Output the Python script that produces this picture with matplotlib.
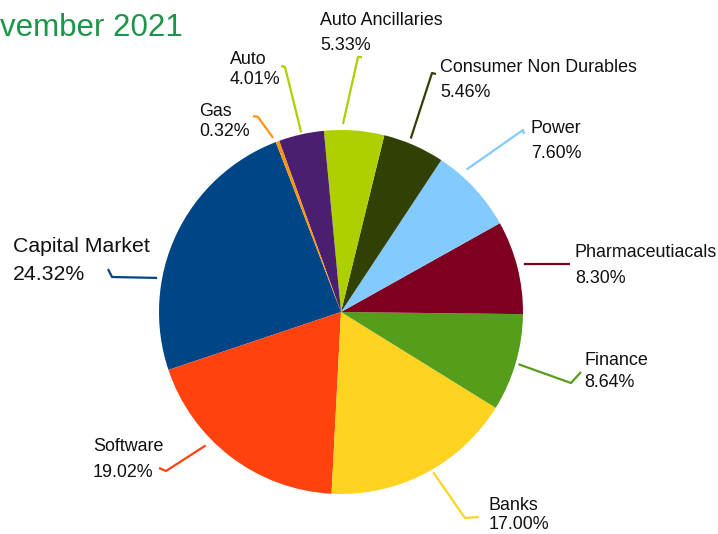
import matplotlib
matplotlib.use("Agg")
import matplotlib.pyplot as plt
import numpy as np

# ---- data ----
categories = ["Capital Market", "Software", "Banks", "Finance", "Pharmaceutiacals",
              "Power", "Consumer Non Durables", "Auto Ancillaries", "Auto", "Gas"]
values = [24.32, 19.02, 17.00, 8.64, 8.30, 7.60, 5.46, 5.33, 4.01, 0.32]
title_text = "November 2021"

# ---- style ----
colors = ["#004586", "#FF420E", "#FFD320", "#579D1C", "#7E0021",
          "#83CAFF", "#314004", "#AECF00", "#4B1F6F", "#FF950E"]
leader_colors = ["#004586", "#FF420E", "#FFD320", "#579D1C", "#7E0021",
                 "#83CAFF", "#314004", "#AECF00", "#AECF00", "#FF950E"]

W, H = 718, 534
def Y(y):
    return H - y

# label layout (pixel x, baseline line1, baseline line2, font size)
label_layout = [
    (13, 252, 280, 15.3),
    (93, 451, 477, 12.9),
    (489, 510, 529, 12.9),
    (584, 365, 387, 12.9),
    (575, 257, 283, 12.9),
    (531, 133, 158, 12.9),
    (440, 72, 97, 12.9),
    (320, 25, 50, 12.9),
    (230, 64, 84, 12.9),
    (199, 116, 136, 12.9),
]
# leader layout: start angle (deg), start radius (px), then path points (px)
leader_layout = [
    (169.5, 187, [(112, 277), (108, 269)]),
    (224.6, 190, [(166, 471), (159, 468)]),
    (299.9, 185, [(465, 518), (479, 517)]),
    (343.6, 185, [(571, 383), (581, 372)]),
    (14.7, 189, [(570, 264)]),
    (48.6, 190, [(523, 130), (524, 134)]),
    (68.1, 187, [(432, 73), (436, 74)]),
    (89.4, 188, [(358, 57), (362, 57)]),
    (102.5, 184, [(285, 67), (281, 66)]),
    (111.3, 187, [(258, 117), (253, 116)]),
]

cx, cy, R = 341, 312, 182

plt.rcParams['font.family'] = ['Liberation Sans', 'DejaVu Sans']
fig = plt.figure(figsize=(W / 100, H / 100), dpi=100)
ax = fig.add_axes([0, 0, 1, 1])
ax.pie(values, colors=colors, startangle=111, counterclock=True,
       center=(cx, Y(cy)), radius=R, frame=True,
       wedgeprops=dict(linewidth=0))
ax.set_xlim(0, W)
ax.set_ylim(0, H)
ax.set_aspect('equal')
ax.axis('off')

for i, (cat, val) in enumerate(zip(categories, values)):
    x, b1, b2, fs = label_layout[i]
    ax.text(x, Y(b1), cat, ha='left', va='baseline', fontsize=fs, color='#111111')
    ax.text(x, Y(b2), f"{val:.2f}%", ha='left', va='baseline', fontsize=fs, color='#111111')
    ang, rr, pts = leader_layout[i]
    sx = cx + rr * np.cos(np.radians(ang))
    sy = cy - rr * np.sin(np.radians(ang))
    xs = [sx] + [p[0] for p in pts]
    ys = [Y(sy)] + [Y(p[1]) for p in pts]
    ax.plot(xs, ys, color=leader_colors[i], linewidth=1.6, solid_capstyle='butt')

ax.text(183, Y(36), title_text, ha='right', va='baseline', fontsize=22.5, color='#1E9448')

fig.savefig("out.png", dpi=100)
